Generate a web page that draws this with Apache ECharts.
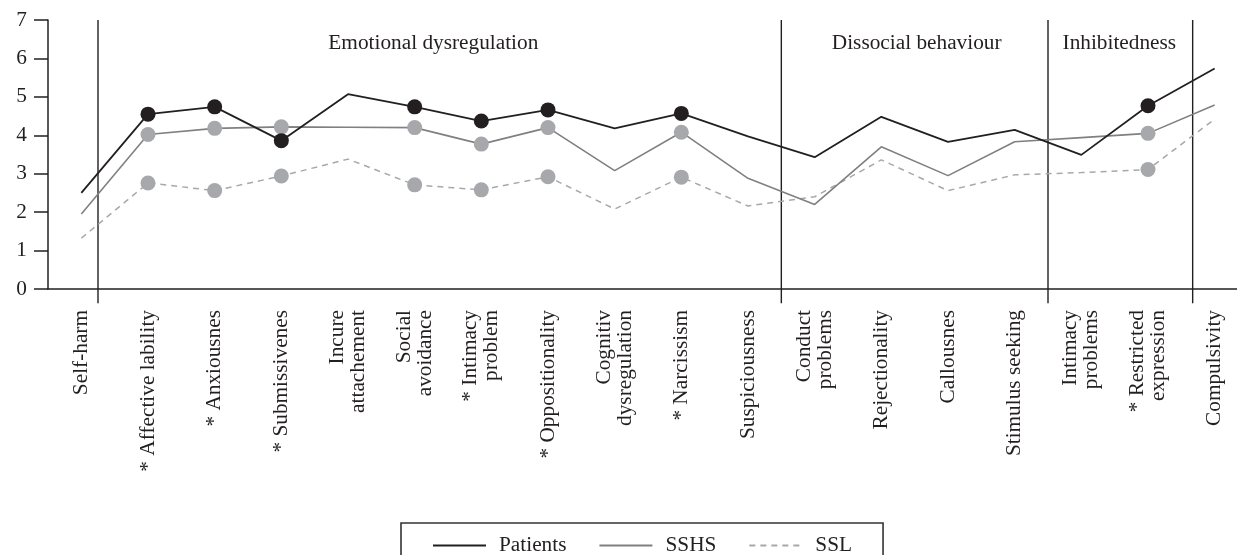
<!DOCTYPE html>
<html>
<head>
<meta charset="utf-8">
<script src="https://cdn.jsdelivr.net/npm/echarts@6/dist/echarts.min.js"></script>
<style>
html,body{margin:0;padding:0;background:#fff;overflow:hidden;}
#chart{width:1250px;height:555px;}
</style>
</head>
<body>
<div id="chart"></div>
<script>
const categories = ['Self-harm', '* Affective lability', '* Anxiousnes', '* Submissivenes',
  'Incure\nattachement', 'Social\navoidance', '* Intimacy\nproblem', '* Oppositionality',
  'Cognitiv\ndysregulation', '* Narcissism', 'Suspiciousness', 'Conduct\nproblems',
  'Rejectionality', 'Callousnes', 'Stimulus seeking', 'Intimacy\nproblems',
  '* Restricted\nexpression', 'Compulsivity'];
const patients = [2.5, 4.55, 4.74, 3.86, 5.07, 4.74, 4.37, 4.66, 4.18, 4.57, 3.97, 3.43, 4.48, 3.83, 4.14, 3.49, 4.77, 5.74];
const sshs = [1.95, 4.02, 4.18, 4.22, 4.21, 4.2, 3.77, 4.2, 3.08, 4.08, 2.88, 2.2, 3.7, 2.95, 3.83, 3.94, 4.05, 4.79];
const ssl = [1.32, 2.76, 2.56, 2.94, 3.38, 2.71, 2.58, 2.92, 2.08, 2.91, 2.16, 2.4, 3.36, 2.56, 2.97, 3.03, 3.11, 4.42];
const significant = [0, 1, 1, 1, 0, 1, 1, 1, 0, 1, 0, 0, 0, 0, 0, 0, 1, 0];
const yTicks = [0, 1, 2, 3, 4, 5, 6, 7];
const groupNames = ['Emotional dysregulation', 'Dissocial behaviour', 'Inhibitedness'];
const groupCenters = [5.28, 12.53, 15.57];   // in category-index units
const dividers = [0.25, 10.5, 14.5, 16.67];  // in category-index units

const FONT = "'Liberation Serif', 'Times New Roman', serif";
const TXT = '#231f20';
const FS = 21.3;

function withMarkers(values, color) {
  return values.map((v, i) => significant[i]
    ? { value: v, symbol: 'circle', symbolSize: 15, itemStyle: { color: color } }
    : { value: v, symbol: 'none' });
}

const dividerSeries = dividers.map(d => ({
  type: 'line', xAxisIndex: 1, yAxisIndex: 0, silent: true, clip: false,
  symbol: 'none', z: 1,
  lineStyle: { color: '#231f20', width: 1.4 },
  data: [[d, yTicks[yTicks.length - 1]], [d, -0.37]]
}));

const option = {
  animation: false,
  backgroundColor: '#fff',
  grid: { left: 48, top: 20, bottom: 266, width: 1200, containLabel: false },
  xAxis: [{
    type: 'category', data: categories, boundaryGap: true,
    axisLine: { onZero: false, lineStyle: { color: '#231f20', width: 1.5 } },
    axisTick: { show: false },
    axisLabel: { interval: 0, rotate: 90, margin: 21, color: TXT, fontFamily: FONT, fontSize: FS, lineHeight: 21 }
  }, {
    type: 'value', min: -0.5, max: 17.5, show: false
  }],
  yAxis: {
    type: 'value', min: yTicks[0], max: yTicks[yTicks.length - 1], interval: 1,
    axisLine: { show: true, onZero: false, lineStyle: { color: '#231f20', width: 1.5 } },
    axisTick: { show: true, length: 14, lineStyle: { color: '#231f20', width: 1.5 } },
    splitLine: { show: false },
    axisLabel: { margin: 21, color: TXT, fontFamily: FONT, fontSize: FS, padding: [3, 0, 0, 0] }
  },
  legend: {
    data: ['Patients', 'SSHS', 'SSL'],
    left: 401, top: 523,
    padding: [12, 31, 14, 31],
    borderColor: '#333', borderWidth: 1.6,
    itemWidth: 53, itemHeight: 14, itemGap: 32,
    itemStyle: { opacity: 0 },
    textStyle: { color: TXT, fontFamily: FONT, fontSize: FS, padding: [0, 0, 0, 8] }
  },
  series: [
    ...dividerSeries,
    {
      name: 'SSL', type: 'line', data: withMarkers(ssl, '#a7a8ab'), symbol: 'none', z: 2,
      lineStyle: { color: '#a7a8ab', width: 1.5, type: [6, 5] },
      itemStyle: { color: '#a7a8ab' }
    },
    {
      name: 'SSHS', type: 'line', data: withMarkers(sshs, '#a7a8ab'), symbol: 'none', z: 3,
      lineStyle: { color: '#808080', width: 1.6 },
      itemStyle: { color: '#808080' }
    },
    {
      name: 'Patients', type: 'line', data: withMarkers(patients, '#231f20'), symbol: 'none', z: 4,
      lineStyle: { color: '#231f20', width: 1.8 },
      itemStyle: { color: '#231f20' }
    },
    {
      type: 'scatter', xAxisIndex: 1, yAxisIndex: 0, silent: true, symbolSize: 0, z: 5,
      itemStyle: { opacity: 1 },
      data: groupNames.map((n, i) => ({ name: n, value: [groupCenters[i], 6.38] })),
      label: { show: true, position: 'inside', formatter: p => p.name, color: TXT, opacity: 1, fontFamily: FONT, fontSize: FS }
    }
  ]
};

const chart = echarts.init(document.getElementById('chart'), null, { renderer: 'canvas' });
chart.setOption(option);
</script>
</body>
</html>
